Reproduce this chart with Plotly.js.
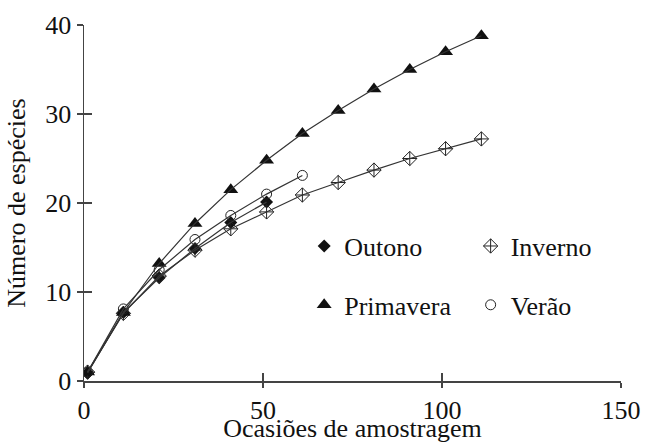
<!DOCTYPE html>
<html>
<head>
<meta charset="utf-8">
<script src="https://cdn.plot.ly/plotly-3.0.1.min.js"></script>
<style>
html,body{margin:0;padding:0;background:#fff;}
#chart{width:645px;height:443px;}
#chart svg text{font-family:"Liberation Serif","Times New Roman",serif !important;}
</style>
</head>
<body>
<div id="chart"></div>
<script>
var xLong = [1, 11, 21, 31, 41, 51, 61, 71, 81, 91, 101, 111];
var xOutono = [1, 11, 21, 31, 41, 51];
var xVerao = [1, 11, 21, 31, 41, 51, 61];

var outono = [0.9, 7.7, 11.6, 14.9, 17.8, 20.1];
var inverno = [1.0, 7.6, 11.8, 14.7, 17.1, 19.0, 20.9, 22.3, 23.7, 25.0, 26.1, 27.2];
var primavera = [1.0, 7.7, 13.2, 17.7, 21.5, 24.8, 27.8, 30.4, 32.8, 35.0, 37.0, 38.8];
var verao = [1.0, 8.1, 12.5, 15.9, 18.6, 21.0, 23.1];

var xTicks = [0, 50, 100, 150];
var yTicks = [0, 10, 20, 30, 40];

var names = ["Outono", "Inverno", "Primavera", "Verão"];

var FONT = "Times New Roman";
var LINE = {color: "#333", width: 1.2};

function lineTrace(x, y) {
  return {x: x, y: y, xaxis: "x2", yaxis: "y2", mode: "lines", line: LINE,
          showlegend: false, hoverinfo: "skip"};
}
function markTrace(x, y, name, marker, legend, group) {
  return {x: x, y: y, mode: "markers", name: name, marker: marker,
          legend: legend, legendgroup: group, showlegend: true};
}

var data = [
  lineTrace(xOutono, outono),
  lineTrace(xLong, inverno),
  lineTrace(xLong, primavera),
  lineTrace(xVerao, verao),
  markTrace(xOutono, outono, names[0], {symbol: "diamond", size: 10, color: "#111"}, "legend", "a"),
  markTrace(xLong, inverno, names[1], {symbol: "diamond-cross-open", size: 11, color: "#222", line: {width: 1, color: "#222"}}, "legend2", "b"),
  markTrace(xLong, primavera, names[2], {symbol: "triangle-up", size: 13, color: "#111"}, "legend", "c"),
  markTrace(xVerao, verao, names[3], {symbol: "circle-open", size: 10, color: "#222", line: {width: 1, color: "#222"}}, "legend2", "d")
];

var layout = {
  width: 645, height: 443,
  margin: {l: 84, r: 24, t: 25, b: 62},
  paper_bgcolor: "#fff", plot_bgcolor: "#fff",
  font: {family: FONT, size: 26, color: "#111"},
  xaxis: {
    showgrid: false, zeroline: false, showline: true,
    linecolor: "#444", linewidth: 1.5, tickcolor: "#444", tickwidth: 1.5,
    range: [0, 150], tickvals: xTicks, ticktext: xTicks.map(String),
    ticks: "outside", ticklen: 5,
    title: {text: "Ocasiões de amostragem", font: {family: FONT, size: 26}, standoff: 2}
  },
  yaxis: {
    showgrid: false, zeroline: false, showline: true,
    linecolor: "#444", linewidth: 1.5, tickcolor: "#444", tickwidth: 1.5,
    range: [0, 40], tickvals: yTicks, ticktext: yTicks.map(String),
    ticks: "outside", ticklen: 6,
    title: {text: "Número de espécies", font: {family: FONT, size: 26}, standoff: 12}
  },
  xaxis2: {
    showgrid: false, zeroline: false, showline: true,
    linecolor: "#444", linewidth: 1.5, tickcolor: "#444", tickwidth: 1.5,
    range: [0, 150], tickvals: xTicks, overlaying: "x", anchor: "y2",
    ticks: "inside", ticklen: 8, showticklabels: false
  },
  yaxis2: {
    showgrid: false, zeroline: false, showline: true,
    linecolor: "#444", linewidth: 1.5, tickcolor: "#444", tickwidth: 1.5,
    range: [0, 40], tickvals: yTicks, overlaying: "y", anchor: "x2",
    ticks: "inside", ticklen: 8, showticklabels: false
  },
  legend: {
    font: {family: FONT, size: 26},
    bgcolor: "rgba(0,0,0,0)", borderwidth: 0,
    traceorder: "grouped", tracegroupgap: 22,
    xanchor: "left", yanchor: "top", x: 0.41, y: 0.445
  },
  legend2: {
    font: {family: FONT, size: 26},
    bgcolor: "rgba(0,0,0,0)", borderwidth: 0,
    traceorder: "grouped", tracegroupgap: 22,
    xanchor: "left", yanchor: "top", x: 0.72, y: 0.445
  },
  showlegend: true
};

Plotly.newPlot("chart", data, layout, {displayModeBar: false, staticPlot: true});
</script>
</body>
</html>
